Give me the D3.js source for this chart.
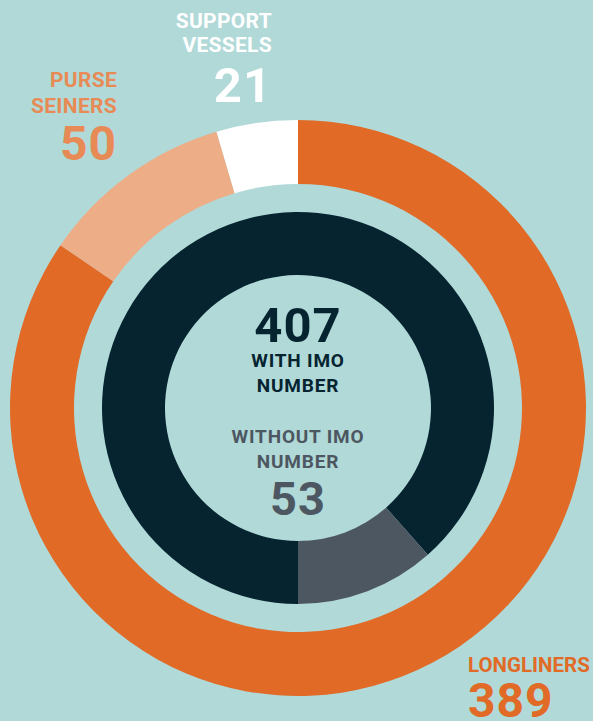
<!DOCTYPE html>
<html lang="en">
<head>
    <meta charset="UTF-8">
    <title>Vessels by type and IMO number</title>
    <style>
        html, body { margin: 0; padding: 0; background: #b0d9d8; }
        svg { display: block; }
        text { font-family: Roboto, "DejaVu Sans", sans-serif; font-weight: 700; }
    </style>
</head>
<body>
    <svg width="593" height="721"></svg>
    <script src="https://d3js.org/d3.v7.min.js"></script>
    <script>

        // vessel types (outer ring)
        var typeNames = ["LONGLINERS", "PURSE SEINERS", "SUPPORT VESSELS"];
        var typeValues = [389, 50, 21];
        var typeColors = ["#e06a26", "#edae87", "#ffffff"];

        // IMO number (inner ring)
        var imoNames = ["WITH IMO NUMBER", "WITHOUT IMO NUMBER"];
        var imoValues = [407, 53];
        var imoColors = ["#062330", "#4d5761"];

        var svg = d3.select("svg"),
            cx = 298, cy = 408;

        svg.append("rect")
            .attr("width", 593).attr("height", 721)
            .attr("fill", "#b0d9d8");

        var g = svg.append("g")
            .attr("transform", "translate(" + cx + "," + cy + ")");

        var outerPie = d3.pie().sort(null).startAngle(0).endAngle(2 * Math.PI);
        var innerPie = d3.pie().sort(null).startAngle(Math.PI).endAngle(3 * Math.PI);

        var outerArc = d3.arc().innerRadius(224).outerRadius(288);
        var innerArc = d3.arc().innerRadius(133).outerRadius(196);

        g.selectAll(".outer")
            .data(outerPie(typeValues))
            .enter().append("path")
            .attr("class", "outer")
            .attr("d", outerArc)
            .attr("fill", function(d, i) { return typeColors[i]; });

        g.selectAll(".inner")
            .data(innerPie(imoValues))
            .enter().append("path")
            .attr("class", "inner")
            .attr("d", innerArc)
            .attr("fill", function(d, i) { return imoColors[i]; });

        // outer labels: name lines then the big number
        function label(x, anchor, color, lines, lineYs, num, numY, small, big, ls) {
            var t = svg.append("g").attr("fill", color).attr("text-anchor", anchor);
            lines.forEach(function(l, i) {
                t.append("text").attr("x", x).attr("y", lineYs[i])
                    .attr("font-size", small)
                    .attr("letter-spacing", ls + "px")
                    .text(l);
            });
            t.append("text").attr("x", x).attr("y", numY)
                .attr("font-size", big).attr("letter-spacing", "1px").text(num);
        }

        label(272, "end", "#ffffff", ["SUPPORT", "VESSELS"], [28, 52], typeValues[2], 102, 21, 49, 0.3);
        label(117, "end", "#e88a55", ["PURSE", "SEINERS"], [87, 113], typeValues[1], 160, 21, 48, 0.3);
        label(468, "start", "#e06a26", ["LONGLINERS"], [672], typeValues[0], 717, 20.5, 48, 0);

        // centre texts
        var c = svg.append("g").attr("text-anchor", "middle");
        c.append("text").attr("x", cx).attr("y", 342).attr("font-size", 49)
            .attr("letter-spacing", "1px")
            .attr("fill", imoColors[0]).text(imoValues[0]);
        c.append("text").attr("x", cx).attr("y", 367).attr("font-size", 19)
            .attr("letter-spacing", "0.8px")
            .attr("fill", imoColors[0]).text("WITH IMO");
        c.append("text").attr("x", cx).attr("y", 392).attr("font-size", 19)
            .attr("letter-spacing", "0.8px")
            .attr("fill", imoColors[0]).text("NUMBER");
        c.append("text").attr("x", cx).attr("y", 443).attr("font-size", 19)
            .attr("letter-spacing", "0.8px")
            .attr("fill", imoColors[1]).text("WITHOUT IMO");
        c.append("text").attr("x", cx).attr("y", 468).attr("font-size", 19)
            .attr("letter-spacing", "0.8px")
            .attr("fill", imoColors[1]).text("NUMBER");
        c.append("text").attr("x", cx).attr("y", 515).attr("font-size", 47)
            .attr("letter-spacing", "1px")
            .attr("fill", imoColors[1]).text(imoValues[1]);

    </script>
</body>
</html>
